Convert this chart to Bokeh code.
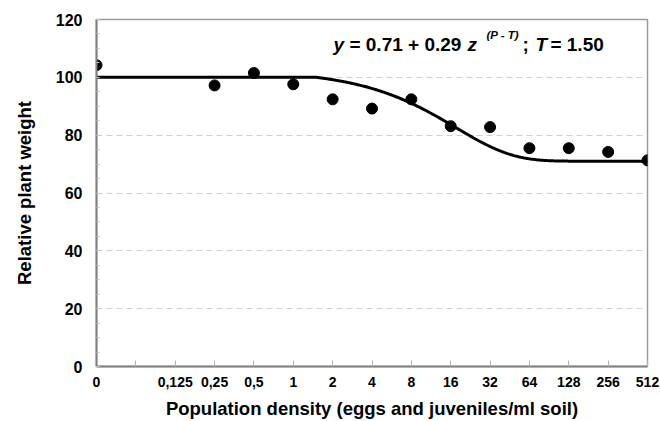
import numpy as np
from bokeh.plotting import figure
from bokeh.models import Range1d, FixedTicker, Label
from bokeh.embed import file_html
from bokeh.resources import INLINE

# ---- data ----
tick_labels = ["0", "", "0,125", "0,25", "0,5", "1", "2", "4", "8", "16",
               "32", "64", "128", "256", "512"]
point_density = ["0", "0,25", "0,5", "1", "2", "4", "8", "16", "32", "64",
                 "128", "256", "512"]
relative_weight = [104.2, 97.2, 101.5, 97.6, 92.4, 89.2, 92.4, 83.1, 82.8,
                   75.5, 75.5, 74.2, 71.3]
y_ticks = [0, 20, 40, 60, 80, 100, 120]
grid_ticks = [20, 40, 60, 80, 100]

# Seinhorst model shown on the chart: y = m + (1-m) z^(P-T), T = 1.50
model_m = 0.71
model_T = 1.50
model_z = 0.9445  # estimated from the drawn curve

FONT = "Liberation Sans"

x_pos = [tick_labels.index(d) for d in point_density]

# model curve on the category axis (position 1 <-> density 0.0625, each step doubles)
u = np.linspace(0, len(tick_labels) - 1, 600)
P = np.where(u < 1, 0.0, 2.0 ** (u - 5))
curve = np.where(P <= model_T, 100.0,
                 100.0 * (model_m + (1 - model_m) * model_z ** (P - model_T)))

p = figure(width=660, height=421, output_backend="svg", toolbar_location=None,
           x_range=Range1d(0, len(tick_labels) - 1), y_range=Range1d(0, 120),
           min_border_left=96, min_border_right=13, min_border_top=19,
           min_border_bottom=55)
p.background_fill_color = "white"
p.border_fill_color = "white"
p.outline_line_color = "#9a9a9a"
p.outline_line_width = 1.5

p.xgrid.visible = False
p.ygrid.ticker = FixedTicker(ticks=grid_ticks)
p.ygrid.grid_line_color = "#cfcfcf"
p.ygrid.grid_line_dash = "6 4"
p.ygrid.grid_line_width = 1

# x axis
p.xaxis.ticker = FixedTicker(ticks=list(range(len(tick_labels))))
p.xaxis.major_label_overrides = {i: t for i, t in enumerate(tick_labels)}
p.xaxis.axis_line_color = "#808080"
p.xaxis.axis_line_width = 2
p.xaxis.major_tick_in = 6
p.xaxis.major_tick_out = 0
p.xaxis.major_tick_line_color = "#b0b0b0"
p.xaxis.minor_tick_line_color = None
p.xaxis.major_label_text_font = FONT
p.xaxis.major_label_text_font_style = "bold"
p.xaxis.major_label_text_font_size = "14px"
p.xaxis.major_label_text_color = "black"
p.xaxis.major_label_standoff = 10
p.xaxis.axis_label = "Population density (eggs and juveniles/ml soil)"
p.xaxis.axis_label_text_font = FONT
p.xaxis.axis_label_text_font_style = "bold"
p.xaxis.axis_label_text_font_size = "18.5px"
p.xaxis.axis_label_text_color = "black"
p.xaxis.axis_label_standoff = 8

# y axis
p.yaxis.ticker = FixedTicker(ticks=y_ticks, minor_ticks=list(range(0, 121, 5)))
p.yaxis.axis_line_color = "#808080"
p.yaxis.axis_line_width = 2
p.yaxis.major_tick_in = 3
p.yaxis.major_tick_out = 0
p.yaxis.minor_tick_in = 3
p.yaxis.minor_tick_out = 0
p.yaxis.major_tick_line_color = "#c0c0c0"
p.yaxis.minor_tick_line_color = "#c0c0c0"
p.yaxis.major_label_text_font = FONT
p.yaxis.major_label_text_font_style = "bold"
p.yaxis.major_label_text_font_size = "16px"
p.yaxis.major_label_text_color = "black"
p.yaxis.major_label_standoff = 14
p.yaxis.axis_label = "Relative plant weight"
p.yaxis.axis_label_text_font = FONT
p.yaxis.axis_label_text_font_style = "bold"
p.yaxis.axis_label_text_font_size = "18.5px"
p.yaxis.axis_label_text_color = "black"
p.yaxis.axis_label_standoff = 18

# marks
p.line(u, curve, line_color="black", line_width=3)
p.scatter(x_pos, relative_weight, size=11, fill_color="black", line_color="black")

# equation annotation
ax, ay = 6.02, 111.4
pieces = [
    ("y", 0, 0, "bold italic", "19px"),
    ("= 0.71 + 0.29", 16, 0, "bold", "19px"),
    ("z", 134, 0, "bold italic", "19px"),
    ("(P - T)", 153, 9, "bold italic", "11.5px"),
    (";", 189, 0, "bold", "19px"),
    ("T", 202, 0, "bold italic", "19px"),
    ("= 1.50", 217, 0, "bold", "19px"),
]
for txt, dx, dy, style, size in pieces:
    p.add_layout(Label(x=ax, y=ay, x_offset=dx, y_offset=dy, text=txt,
                       text_font=FONT, text_font_style=style,
                       text_font_size=size, text_color="black",
                       text_baseline="alphabetic", text_align="left"))

open("out.html", "w").write(file_html(p, INLINE))
